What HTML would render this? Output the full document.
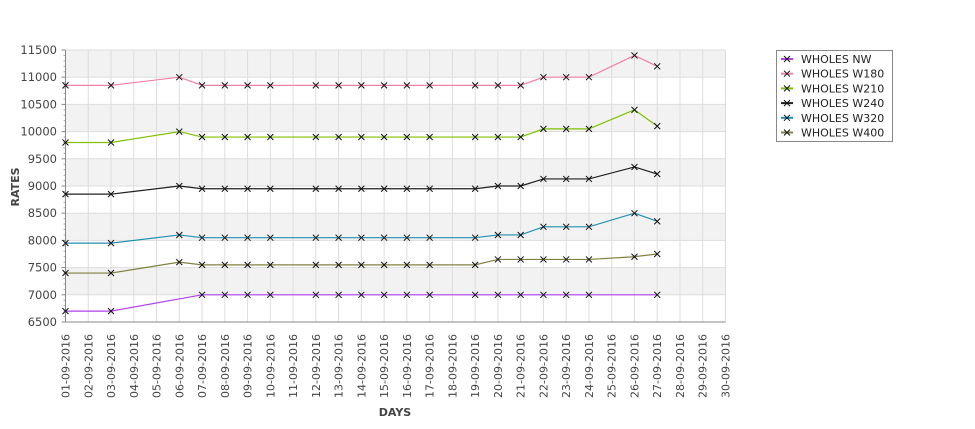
<!DOCTYPE html>
<html><head><meta charset="utf-8"><style>
body{margin:0;background:#fff;}
svg{display:block;font-family:"DejaVu Sans","Liberation Sans",sans-serif;}
</style></head><body>
<svg id="chart" width="975" height="429"></svg>
<script>
const days = [];
for (let d = 1; d <= 30; d++) days.push((d < 10 ? '0' : '') + d + '-09-2016');
const yTicks = [6500,7000,7500,8000,8500,9000,9500,10000,10500,11000,11500];
const seriesNames = ['WHOLES NW','WHOLES W180','WHOLES W210','WHOLES W240','WHOLES W320','WHOLES W400'];
const seriesColors = ['#b040f0','#f080a8','#80c000','#202020','#2090b0','#808040'];
const dayIdxNW = [1,3,7,8,9,10,12,13,14,15,16,17,19,20,21,22,23,24,27];
const valsNW = [6700,6700,7000,7000,7000,7000,7000,7000,7000,7000,7000,7000,7000,7000,7000,7000,7000,7000,7000];
const dayIdx = [1,3,6,7,8,9,10,12,13,14,15,16,17,19,20,21,22,23,24,26,27];
const valsW180 = [10850,10850,11000,10850,10850,10850,10850,10850,10850,10850,10850,10850,10850,10850,10850,10850,11000,11000,11000,11400,11200];
const valsW210 = [9800,9800,10000,9900,9900,9900,9900,9900,9900,9900,9900,9900,9900,9900,9900,9900,10050,10050,10050,10400,10100];
const valsW240 = [8850,8850,9000,8950,8950,8950,8950,8950,8950,8950,8950,8950,8950,8950,9000,9000,9130,9130,9130,9350,9220];
const valsW320 = [7950,7950,8100,8050,8050,8050,8050,8050,8050,8050,8050,8050,8050,8050,8100,8100,8250,8250,8250,8500,8350];
const valsW400 = [7400,7400,7600,7550,7550,7550,7550,7550,7550,7550,7550,7550,7550,7550,7650,7650,7650,7650,7650,7700,7750];

const NS='http://www.w3.org/2000/svg';
const svg=document.getElementById('chart');
const L=65.5,R=725.5,T=50,B=322,yMin=6500,yMax=11500;
const xS=d=>L+(d-1)*(R-L)/29;
const yS=v=>B-(v-yMin)*(B-T)/(yMax-yMin);
function mk(tag,attrs,parent){const e=document.createElementNS(NS,tag);for(const k in attrs)e.setAttribute(k,attrs[k]);(parent||svg).appendChild(e);return e;}

// bands
for(let i=0;i<yTicks.length-1;i++){
  if(i%2===1){
    const r=mk('rect',{x:L,y:yS(yTicks[i+1]),width:R-L,height:yS(yTicks[i])-yS(yTicks[i+1]),fill:'#f2f2f2'});
    
    
  }
}
// vertical grid
days.forEach((d,i)=>{
  const l=mk('line',{x1:xS(i+1),x2:xS(i+1),y1:T,y2:B,stroke:'#dddddd','stroke-width':1});
  
  
  const t=mk('text',{x:0,y:0,'font-size':11,fill:'#444','text-anchor':'end',transform:`translate(${xS(i+1)+4},${334}) rotate(-90)`});
  t.textContent=d;
  
  
});
// horizontal grid + labels
yTicks.forEach(v=>{
  const l=mk('line',{x1:L,x2:R,y1:yS(v),y2:yS(v),stroke:'#dddddd','stroke-width':1});
  
  
  mk('line',{x1:L-4,x2:L,y1:yS(v),y2:yS(v),stroke:'#888'});
  const t=mk('text',{x:57,y:yS(v)+4,'font-size':11.5,fill:'#444','text-anchor':'end'});
  t.textContent=v;
  
  
});
for(let v=yMin;v<yMax;v+=100){ if(v%500) mk('line',{x1:L-2,x2:L,y1:yS(v),y2:yS(v),stroke:'#aaa'}); }
// axes
const ax=mk('line',{x1:L,x2:L,y1:T,y2:B,stroke:'#888'});


const ax2=mk('line',{x1:L,x2:R,y1:B,y2:B,stroke:'#888'});


const yt=mk('text',{x:0,y:0,'font-size':11,'font-weight':'bold',fill:'#444','text-anchor':'middle',transform:'translate(19,187) rotate(-90)'});
yt.textContent='RATES';


const xt=mk('text',{x:395,y:416,'font-size':11,'font-weight':'bold',fill:'#444','text-anchor':'middle'});
xt.textContent='DAYS';



const all=[[dayIdxNW,valsNW],[dayIdx,valsW180],[dayIdx,valsW210],[dayIdx,valsW240],[dayIdx,valsW320],[dayIdx,valsW400]];
all.forEach(([ds,vs],si)=>{
  const g=mk('g',{});
  
  
  const pts=ds.map((d,i)=>xS(d)+','+yS(vs[i])).join(' ');
  const pl=mk('polyline',{points:pts,fill:'none',stroke:seriesColors[si],'stroke-width':1.2},g);
  
  
  ds.forEach((d,i)=>{
    const x=xS(d),y=yS(vs[i]);
    const p=mk('path',{d:`M${x-3},${y-3}L${x+3},${y+3}M${x-3},${y+3}L${x+3},${y-3}`,stroke:'#111','stroke-width':1},g);
    
    
  });
});
// legend
const lg=mk('g',{});


mk('rect',{x:776.5,y:50.5,width:116,height:91,fill:'#fff',stroke:'#888'},lg);
seriesNames.forEach((n,i)=>{
  const y=59+i*14.7;
  const e=mk('g',{},lg);
  
  
  mk('line',{x1:781,x2:793,y1:y,y2:y,stroke:seriesColors[i],'stroke-width':2},e);
  mk('path',{d:`M${784},${y-3}L${790},${y+3}M${784},${y+3}L${790},${y-3}`,stroke:'#111','stroke-width':1},e);
  const t=mk('text',{x:801,y:y+4,'font-size':11,fill:'#222'},e);
  t.textContent=n;
});
</script>
</body></html>
